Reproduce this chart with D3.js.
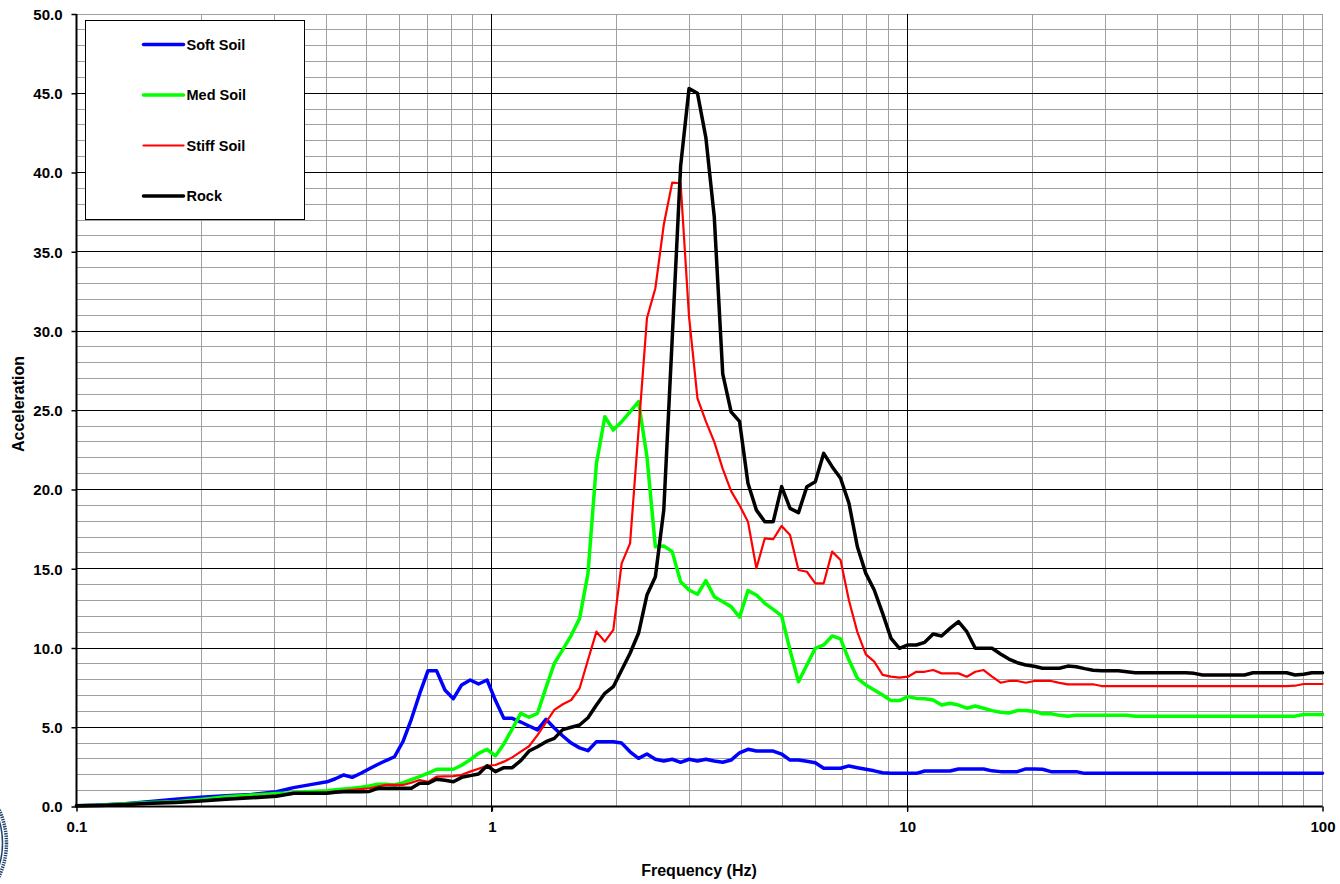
<!DOCTYPE html>
<html>
<head>
<meta charset="utf-8">
<script src="https://cdn.jsdelivr.net/npm/d3@7"></script>
<style>
    body { margin: 0; background: #fff; }
    svg { display: block; font-family: 'Liberation Sans', Arial, sans-serif; }
</style>
</head>
<body>
<div id="chart"></div>
<script>
// frequency grid (Hz), shared by all series
const freq = [0.100, 0.114, 0.131, 0.151, 0.173, 0.199, 0.229, 0.264, 0.303, 0.333, 0.366,
    0.401, 0.420, 0.440, 0.461, 0.484, 0.507, 0.531, 0.556, 0.583, 0.611,
    0.640, 0.670, 0.702, 0.736, 0.771, 0.808, 0.846, 0.887, 0.929, 0.974,
    1.020, 1.069, 1.120, 1.174, 1.229, 1.288, 1.350, 1.414, 1.482, 1.553,
    1.627, 1.704, 1.786, 1.871, 1.961, 2.054, 2.152, 2.255, 2.363, 2.476,
    2.594, 2.718, 2.848, 2.984, 3.127, 3.276, 3.432, 3.597, 3.768, 3.948,
    4.137, 4.335, 4.542, 4.759, 4.986, 5.224, 5.474, 5.735, 6.009, 6.296,
    6.597, 6.912, 7.242, 7.588, 7.951, 8.331, 8.728, 9.145, 9.582, 10.04,
    10.52, 11.02, 11.55, 12.10, 12.68, 13.29, 13.92, 14.59, 15.28, 16.01,
    16.78, 17.58, 18.42, 19.30, 20.22, 21.18, 22.20, 23.26, 24.37, 25.53,
    26.75, 28.03, 29.37, 30.77, 32.24, 33.79, 35.39, 37.09, 38.86, 40.71,
    42.66, 44.70, 46.83, 49.07, 51.42, 53.86, 56.44, 59.14, 61.96, 64.92,
    68.03, 71.27, 74.68, 78.25, 81.98, 85.90, 90.01, 94.30, 100.0];

const softSoil = [0.05, 0.10, 0.18, 0.32, 0.45, 0.58, 0.68, 0.76, 0.93, 1.19, 1.38,
    1.56, 1.75, 1.99, 1.84, 2.10, 2.38, 2.65, 2.90, 3.14, 4.10,
    5.50, 7.10, 8.57, 8.57, 7.35, 6.80, 7.67, 7.98, 7.73, 7.98,
    6.70, 5.56, 5.56, 5.33, 5.08, 4.83, 5.50, 4.95, 4.45, 4.00,
    3.70, 3.52, 4.09, 4.09, 4.09, 4.00, 3.45, 3.04, 3.31, 2.98,
    2.87, 2.98, 2.79, 2.98, 2.87, 2.98, 2.87, 2.79, 2.93, 3.39,
    3.61, 3.50, 3.50, 3.50, 3.31, 2.93, 2.93, 2.85, 2.76, 2.41,
    2.41, 2.41, 2.56, 2.45, 2.35, 2.25, 2.13, 2.10, 2.09, 2.09,
    2.09, 2.24, 2.24, 2.24, 2.24, 2.37, 2.37, 2.37, 2.37, 2.25,
    2.20, 2.20, 2.20, 2.37, 2.37, 2.35, 2.20, 2.20, 2.20, 2.20,
    2.09, 2.09, 2.09, 2.09, 2.09, 2.09, 2.09, 2.09, 2.09, 2.09,
    2.09, 2.09, 2.09, 2.09, 2.09, 2.09, 2.09, 2.09, 2.09, 2.09,
    2.09, 2.09, 2.09, 2.09, 2.09, 2.09, 2.09, 2.09, 2.09];

const medSoil = [0.05, 0.08, 0.18, 0.25, 0.30, 0.45, 0.62, 0.72, 0.82, 0.86, 0.94,
    1.00, 1.05, 1.10, 1.15, 1.22, 1.30, 1.40, 1.40, 1.36, 1.50,
    1.70, 1.88, 2.10, 2.35, 2.35, 2.35, 2.60, 2.95, 3.35, 3.61,
    3.19, 3.95, 4.90, 5.88, 5.63, 5.88, 7.50, 9.03, 9.90, 10.80,
    11.87, 14.71, 21.65, 24.59, 23.75, 24.28, 24.90, 25.54, 22.07, 16.39,
    16.44, 16.08, 14.18, 13.66, 13.39, 14.25, 13.24, 12.92, 12.61, 11.94,
    13.62, 13.34, 12.82, 12.44, 12.02, 9.87, 7.87, 8.93, 9.98, 10.19,
    10.76, 10.57, 9.24, 8.09, 7.67, 7.35, 7.03, 6.68, 6.68, 6.93,
    6.82, 6.80, 6.72, 6.40, 6.51, 6.40, 6.20, 6.34, 6.20, 6.05,
    5.95, 5.90, 6.05, 6.05, 6.00, 5.85, 5.85, 5.75, 5.70, 5.75,
    5.75, 5.75, 5.75, 5.75, 5.75, 5.75, 5.70, 5.70, 5.70, 5.70,
    5.70, 5.70, 5.70, 5.70, 5.70, 5.70, 5.70, 5.70, 5.70, 5.70,
    5.70, 5.70, 5.70, 5.70, 5.70, 5.70, 5.80, 5.80, 5.80];

const stiffSoil = [0.05, 0.07, 0.12, 0.20, 0.25, 0.35, 0.50, 0.60, 0.70, 0.80, 0.85,
    0.90, 0.95, 1.00, 1.05, 1.10, 1.15, 1.25, 1.36, 1.36, 1.36,
    1.50, 1.67, 1.55, 1.88, 1.90, 1.92, 2.00, 2.20, 2.38, 2.57,
    2.62, 2.83, 3.10, 3.46, 3.80, 4.50, 5.30, 6.10, 6.45, 6.72,
    7.46, 9.24, 11.03, 10.40, 11.14, 15.34, 16.60, 23.70, 30.80, 32.70,
    36.70, 39.36, 39.32, 30.90, 25.75, 24.30, 23.00, 21.30, 19.90, 19.00,
    17.97, 15.03, 16.92, 16.86, 17.70, 17.13, 14.92, 14.81, 14.08, 14.08,
    16.08, 15.55, 13.00, 11.00, 9.60, 9.14, 8.30, 8.19, 8.13, 8.19,
    8.50, 8.50, 8.61, 8.40, 8.40, 8.40, 8.19, 8.50, 8.61, 8.19,
    7.81, 7.92, 7.92, 7.81, 7.92, 7.92, 7.92, 7.80, 7.71, 7.71,
    7.71, 7.71, 7.60, 7.60, 7.60, 7.60, 7.60, 7.60, 7.60, 7.60,
    7.60, 7.60, 7.60, 7.60, 7.60, 7.60, 7.60, 7.60, 7.60, 7.60,
    7.60, 7.60, 7.60, 7.60, 7.60, 7.62, 7.73, 7.73, 7.73];

const rock = [0.05, 0.07, 0.12, 0.20, 0.26, 0.35, 0.45, 0.55, 0.65, 0.83, 0.83,
    0.83, 0.90, 0.93, 0.93, 0.93, 0.95, 1.15, 1.15, 1.15, 1.15,
    1.15, 1.46, 1.46, 1.72, 1.65, 1.56, 1.84, 1.95, 2.05, 2.57,
    2.20, 2.45, 2.45, 2.90, 3.50, 3.77, 4.09, 4.30, 4.85, 5.00,
    5.14, 5.60, 6.40, 7.14, 7.56, 8.61, 9.67, 10.93, 13.34, 14.50,
    18.70, 29.50, 40.40, 45.30, 45.00, 42.20, 37.20, 27.30, 24.90, 24.30,
    20.40, 18.70, 17.97, 17.97, 20.18, 18.81, 18.54, 20.18, 20.49, 22.28,
    21.44, 20.71, 19.13, 16.39, 14.71, 13.66, 12.19, 10.61, 9.98, 10.19,
    10.19, 10.36, 10.88, 10.76, 11.24, 11.66, 11.03, 9.98, 9.98, 9.98,
    9.62, 9.30, 9.07, 8.93, 8.85, 8.72, 8.72, 8.72, 8.86, 8.82,
    8.70, 8.60, 8.57, 8.57, 8.57, 8.50, 8.44, 8.44, 8.44, 8.44,
    8.44, 8.44, 8.44, 8.40, 8.30, 8.30, 8.30, 8.30, 8.30, 8.30,
    8.44, 8.44, 8.44, 8.44, 8.44, 8.30, 8.35, 8.44, 8.44];

const seriesNames = ['Soft Soil', 'Med Soil', 'Stiff Soil', 'Rock'];
const seriesValues = [softSoil, medSoil, stiffSoil, rock];
const seriesColors = ['#0000ff', '#00ff00', '#ff0000', '#000000'];
const seriesWidths = [3.5, 3.5, 2.2, 3.5];

const xTicks = [0.1, 1, 10, 100];
const yTicks = [0, 5, 10, 15, 20, 25, 30, 35, 40, 45, 50];

function getMargins() {
    return {
        top: 14,
        bottom: 77.5,
        left: 76.5,
        right: 17.5
    };
}

function layout() {
    const width = 1340;
    const height = 884;
    const svg = d3.select('#chart')
        .append('svg')
        .attr('width', width)
        .attr('height', height);

    svg.append('rect')
        .attr('width', width)
        .attr('height', height)
        .attr('fill', '#fff');

    const m = getMargins();
    const x = d3.scaleLog()
        .domain([0.1, 100])
        .range([m.left, width - m.right]);
    const y = d3.scaleLinear()
        .domain([0, 50])
        .range([height - m.bottom, m.top]);

    return { svg, width, height, x, y };
}

function addGrid(c) {
    const { svg, x, y } = c;
    const g = svg.append('g').attr('shape-rendering', 'crispEdges');
    const [x0, x1] = x.range();
    const [y0, y1] = y.range();

    //minor vertical lines
    const minorX = x.ticks().filter(d => xTicks.indexOf(d) < 0);
    g.selectAll('.vminor')
        .data(minorX.concat([100]))
        .enter()
        .append('line')
        .attr('x1', d => x(d))
        .attr('x2', d => x(d))
        .attr('y1', y0)
        .attr('y2', y1)
        .attr('stroke', '#a0a0a0')
        .attr('stroke-width', 1);

    //minor horizontal lines
    const minorY = d3.range(1, 51).filter(d => d % 5 !== 0 || d === 50);
    g.selectAll('.hminor')
        .data(minorY)
        .enter()
        .append('line')
        .attr('x1', x0)
        .attr('x2', x1)
        .attr('y1', d => y(d))
        .attr('y2', d => y(d))
        .attr('stroke', '#a0a0a0')
        .attr('stroke-width', 1);

    //major lines
    g.selectAll('.vmajor')
        .data([1, 10])
        .enter()
        .append('line')
        .attr('x1', d => x(d))
        .attr('x2', d => x(d))
        .attr('y1', y0 + 5)
        .attr('y2', y1)
        .attr('stroke', '#000')
        .attr('stroke-width', 1);

    g.selectAll('.hmajor')
        .data(yTicks.filter(d => d > 0 && d < 50))
        .enter()
        .append('line')
        .attr('x1', x0)
        .attr('x2', x1)
        .attr('y1', d => y(d))
        .attr('y2', d => y(d))
        .attr('stroke', '#000')
        .attr('stroke-width', 1);
}

function drawLines(c) {
    const { svg, x, y } = c;
    const line = d3.line()
        .x(d => x(d.f))
        .y(d => y(d.v))
        .curve(d3.curveLinear);

    seriesValues.forEach((vals, i) => {
        const data = freq.map((f, j) => ({ f, v: vals[j] }));
        svg.append('path')
            .datum(data)
            .attr('d', line)
            .attr('fill', 'none')
            .attr('stroke', seriesColors[i])
            .attr('stroke-width', seriesWidths[i])
            .attr('stroke-linejoin', 'round')
            .attr('stroke-linecap', 'round');
    });
}

function addAxes(c) {
    const { svg, x, y } = c;
    const [x0, x1] = x.range();
    const [y0, y1] = y.range();

    //y axis
    const yAxis = svg.append('g')
        .attr('transform', `translate(${x0},0)`)
        .call(d3.axisLeft(y).tickValues(yTicks).tickSize(5).tickFormat(d3.format('.1f')));
    yAxis.select('.domain')
        .attr('stroke', '#000')
        .attr('stroke-width', 2)
        .attr('d', `M0,${y0 + 1}V${y1}`);
    yAxis.selectAll('.tick line').attr('stroke', '#000').attr('stroke-width', 1.5);
    yAxis.selectAll('.tick text')
        .attr('x', -14)
        .attr('dy', '0.36em')
        .style('font-size', '15px')
        .style('font-weight', 'bold')
        .style('font-family', "'Liberation Sans', Arial, sans-serif")
        .attr('fill', '#000');

    //x axis
    const xAxis = svg.append('g')
        .attr('transform', `translate(0,${y0})`)
        .call(d3.axisBottom(x).tickValues(xTicks).tickSize(5).tickFormat(d3.format('')));
    xAxis.select('.domain')
        .attr('stroke', '#000')
        .attr('stroke-width', 2)
        .attr('d', `M${x0 - 1},0H${x1}`);
    xAxis.selectAll('.tick line').attr('stroke', '#000').attr('stroke-width', 1.5);
    xAxis.selectAll('.tick text')
        .attr('y', 15)
        .attr('dy', '0.71em')
        .style('font-size', '15px')
        .style('font-weight', 'bold')
        .style('font-family', "'Liberation Sans', Arial, sans-serif")
        .attr('fill', '#000');

    //labels
    svg.append('text')
        .attr('x', 699)
        .attr('y', 876)
        .style('text-anchor', 'middle')
        .style('font-size', '16px')
        .style('font-weight', 'bold')
        .text('Frequency (Hz)');

    svg.append('text')
        .attr('transform', 'rotate(-90)')
        .attr('x', -404)
        .attr('y', 24)
        .style('text-anchor', 'middle')
        .style('font-size', '16px')
        .style('font-weight', 'bold')
        .text('Acceleration');
}

function addLegend(c) {
    const { svg } = c;
    const g = svg.append('g').attr('transform', 'translate(85.5,20.5)');
    g.append('rect')
        .attr('width', 219)
        .attr('height', 199)
        .attr('fill', '#fff')
        .attr('stroke', '#000')
        .attr('stroke-width', 1);

    const item = g.selectAll('.item')
        .data(seriesNames)
        .enter()
        .append('g')
        .attr('transform', (d, i) => `translate(0,${24 + i * 50.5})`);
    item.append('line')
        .attr('x1', 58)
        .attr('x2', 98)
        .attr('stroke', (d, i) => seriesColors[i])
        .attr('stroke-width', (d, i) => seriesWidths[i])
        .attr('stroke-linecap', 'round');
    item.append('text')
        .attr('x', 101)
        .attr('dy', '0.36em')
        .style('font-size', '14.5px')
        .style('font-weight', 'bold')
        .text(d => d);
}

function addSeal(c) {
    //partly visible round seal at the bottom left edge
    const g = c.svg.append('g').attr('transform', 'translate(-72,843)');
    g.append('circle')
        .attr('r', 78.5)
        .attr('fill', 'none')
        .attr('stroke', '#1f436f')
        .attr('stroke-width', 3.5)
        .attr('stroke-dasharray', '1.4,1');
    g.append('circle')
        .attr('r', 74.5)
        .attr('fill', 'none')
        .attr('stroke', '#1f436f')
        .attr('stroke-width', 1.5);
}

const chart = layout();
addGrid(chart);
drawLines(chart);
addAxes(chart);
addLegend(chart);
addSeal(chart);
</script>
</body>
</html>
